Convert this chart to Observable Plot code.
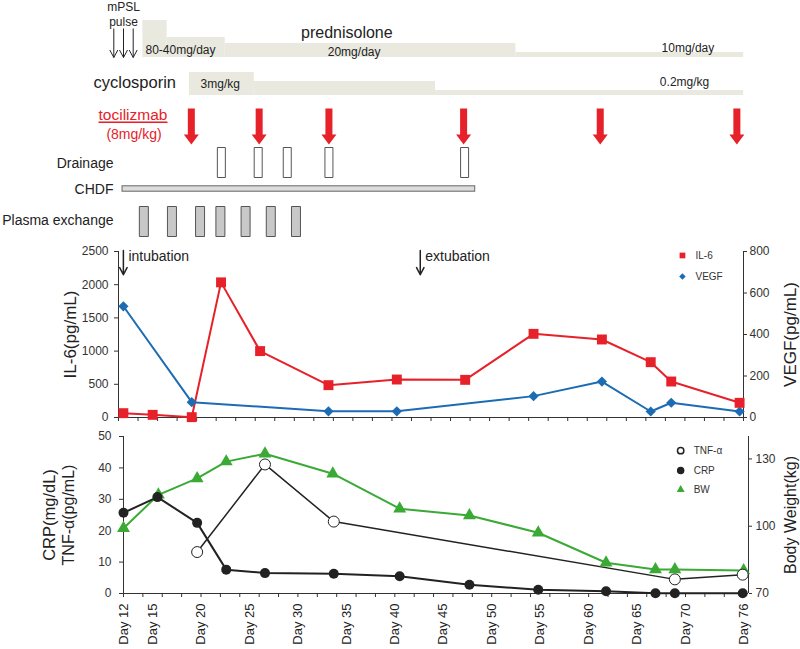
<!DOCTYPE html>
<html><head><meta charset="utf-8">
<script src="https://cdn.jsdelivr.net/npm/d3@7"></script>
<script src="https://cdn.jsdelivr.net/npm/@observablehq/plot@0.6"></script>
<style>
body{margin:0;background:#fff;}
#fig{position:relative;width:800px;height:649px;overflow:hidden;}
</style></head><body><div id="fig"></div>
<script>
// ---------- treatment timeline (days) ----------
const mpslDays = [11, 12, 13];
const predStart = [14, 16.5, 22.5, 52.5];
const predEnd = [16.5, 22.5, 52.5, 76];
const predDose = [80, 40, 20, 10];               // mg/day
const cycloStart = [18.8, 25.5, 44.2];
const cycloEnd = [25.5, 44.2, 76];
const cycloLevel = [3, 2, 1];                    // relative dose step (3 mg/kg ... 0.2 mg/kg)
const tociDays = [19, 26, 33.2, 47.1, 61.2, 75.3];
const drainDays = [22.1, 25.9, 28.9, 33.2, 47.2];
const chdfStart = [11.9];
const chdfEnd = [48.3];
const pexDays = [14.1, 17, 19.9, 22, 24.6, 27.2, 29.8];

// ---------- IL-6 / VEGF ----------
const il6Days = [12.5, 15.5, 19.5, 22.5, 26.5, 33.5, 40.5, 47.5, 54.5, 61.5, 66.5, 68.6, 75.6];
const il6 = [65, 40, 5, 2035, 1000, 487, 572, 567, 1260, 1175, 833, 542, 221];
const vegfDays = [12.5, 19.5, 33.5, 40.5, 54.5, 61.5, 66.5, 68.6, 75.6];
const vegf = [536, 74, 30, 30, 103, 173, 29, 71, 29];
const il6Ticks = [0, 500, 1000, 1500, 2000, 2500];
const vegfTicks = [0, 200, 400, 600, 800];
const eventDays = [12.5, 42.9];
const eventNames = ["intubation", "extubation"];

// ---------- CRP / TNF-α / BW ----------
const crpDays = [12, 15.5, 19.6, 22.6, 26.6, 33.7, 40.5, 47.7, 54.8, 61.8, 66.9, 68.9, 75.9];
const crp = [25.7, 30.7, 22.5, 7.6, 6.5, 6.3, 5.5, 2.8, 1.2, 0.7, 0.1, 0.1, 0.1];
const tnfDays = [19.6, 26.6, 33.7, 68.9, 75.9];
const tnf = [13.2, 41.1, 22.9, 4.5, 6.0];
const bwDays = [12, 15.6, 19.6, 22.6, 26.6, 33.6, 40.5, 47.7, 54.8, 61.8, 66.9, 68.9, 76];
const bw = [99.1, 114, 121.3, 128.8, 132.3, 123.4, 107.8, 104.8, 97.1, 83.7, 80.7, 80.7, 80.3];
const crpTicks = [0, 10, 20, 30, 40, 50];
const bwTicks = [70, 100, 130];
const dayLabels = [12, 15, 20, 25, 30, 35, 40, 45, 50, 55, 60, 65, 70, 76];

// ---------- styling ----------
const FONT = '"Liberation Sans", Arial, Helvetica, sans-serif';
const INK = "#222";
const RED = "#e62129";
const BLUE = "#1c6cb4";
const GREEN = "#3aaa35";
const BAR = "#e9e9df";
const fig = document.getElementById("fig");
const style = {background: "transparent", overflow: "visible", fontFamily: FONT, fontSize: "12px", color: "#333"};
function place(svg, top) {
  svg.style.position = "absolute"; svg.style.left = "0px"; svg.style.top = top + "px";
  fig.appendChild(svg); return svg;
}
const xTop = {domain: [12, 76.5], range: [123, 748], axis: null};
function row(top, height, marks, y = {axis: null}) {
  return place(Plot.plot({width: 800, height, margin: 0, style, x: xTop, y, marks}), top);
}
// custom symbols
const thinArrow = {draw(c) { c.moveTo(0, -14.5); c.lineTo(0, 14.5); c.moveTo(-4, 7); c.lineTo(0, 14.5); c.lineTo(4, 7); }};
const bigArrow = {draw(c) { c.moveTo(-3.5, -18); c.lineTo(3.5, -18); c.lineTo(3.5, 8); c.lineTo(7.5, 8); c.lineTo(0, 18); c.lineTo(-7.5, 8); c.lineTo(-3.5, 8); c.closePath(); }};
const box = (w, h) => ({draw(c) { c.rect(-w / 2, -h / 2, w, h); }});

// dose -> bar thickness (piecewise, as drawn in the original)
const predThick = d3.scaleLinear().domain([0, 10, 20, 40, 80]).range([0, 5, 14, 20, 37]);
const cycloThick = d3.scaleLinear().domain([0, 1, 2, 3]).range([0, 5, 14, 23]);

// ---------- row: mPSL + prednisolone ----------
const predData = predDose.map((dose, i) => ({start: predStart[i], end: predEnd[i], dose}));
row(0, 60, [
  Plot.rect(predData, {x1: "start", x2: "end", y1: () => 0, y2: "dose", fill: BAR}),
  Plot.dot(mpslDays, {x: d => d, symbol: thinArrow, fill: "none", stroke: INK, strokeWidth: 1, dy: 12.5}),
  Plot.text(["mPSL\npulse"], {text: d => d, x: 12, frameAnchor: "top", lineAnchor: "top", lineHeight: 1.17, dy: 1, fontSize: 12, fill: INK}),
  Plot.text(["prednisolone"], {text: d => d, x: 35.05, dy: 2, fontSize: 16, fill: INK}),
  Plot.text(["80-40mg/day"], {text: d => d, x: 14.27, textAnchor: "start", dy: 20, fontSize: 12, fill: INK}),
  Plot.text(["20mg/day"], {text: d => d, x: 35.8, dy: 22, fontSize: 12, fill: INK}),
  Plot.text(["10mg/day"], {text: d => d, x: 70.25, dy: 18, fontSize: 12, fill: INK})
], {transform: predThick, domain: [0, 37], range: [57, 20], axis: null});

// ---------- row: cyclosporin ----------
const cycloData = cycloLevel.map((level, i) => ({start: cycloStart[i], end: cycloEnd[i], level}));
row(60, 37, [
  Plot.rect(cycloData, {x1: "start", x2: "end", y1: () => 0, y2: "level", fill: BAR}),
  Plot.text(["cyclosporin"], {text: d => d, frameAnchor: "left", textAnchor: "start", dx: 93, dy: 3.5, fontSize: 16.5, fill: INK}),
  Plot.text(["3mg/kg"], {text: d => d, x: 19.95, textAnchor: "start", dy: 5.5, fontSize: 12, fill: INK}),
  Plot.text(["0.2mg/kg"], {text: d => d, x: 69.9, dy: 3.5, fontSize: 12, fill: INK})
], {transform: cycloThick, domain: [0, 23], range: [35, 12], axis: null});

// ---------- row: tocilizumab ----------
const toci = row(97, 50, [
  Plot.dot(tociDays, {x: d => d, symbol: bigArrow, fill: RED, stroke: "none", dy: 4}),
  Plot.text(["tocilizmab"], {text: d => d, frameAnchor: "left", textAnchor: "middle", dx: 132.5, dy: -7, fontSize: 15.5, fill: RED}),
  Plot.text(["(8mg/kg)"], {text: d => d, frameAnchor: "left", textAnchor: "middle", dx: 133.5, dy: 12, fontSize: 14, fill: RED})
]);
d3.select(toci).selectAll("text").filter(function () { return this.textContent === "tocilizmab"; })
  .attr("text-decoration", "underline");

// ---------- row: drainage ----------
row(147, 30, [
  Plot.dot(drainDays, {x: d => d, symbol: box(8, 30), fill: "white", stroke: "#555", strokeWidth: 1}),
  Plot.text(["Drainage"], {text: d => d, frameAnchor: "left", textAnchor: "end", dx: 113, dy: 1, fontSize: 14, fill: INK})
]);

// ---------- row: CHDF ----------
const chdfData = chdfStart.map((s, i) => ({start: s, end: chdfEnd[i]}));
row(185, 7, [
  Plot.rect(chdfData, {x1: "start", x2: "end", fill: "#dcdcdc", stroke: "#666", strokeWidth: 1, insetTop: 0.8, insetBottom: 0.8}),
  Plot.text(["CHDF"], {text: d => d, frameAnchor: "left", textAnchor: "end", dx: 113, dy: 0.5, fontSize: 14, fill: INK})
]);

// ---------- row: plasma exchange ----------
row(206, 30, [
  Plot.dot(pexDays, {x: d => d, symbol: box(9, 30), fill: "#c8c8c8", stroke: "#555", strokeWidth: 1}),
  Plot.text(["Plasma exchange"], {text: d => d, frameAnchor: "left", textAnchor: "end", dx: 113, dy: -1, fontSize: 14, fill: INK})
]);

// ---------- IL-6 / VEGF panel ----------
const K = 2500 / 800;
const il6Data = il6.map((v, i) => ({day: il6Days[i], v}));
const vegfData = vegf.map((v, i) => ({day: vegfDays[i], v: v * K}));
const events = eventNames.map((name, i) => ({day: eventDays[i], name}));
const legendMid = [{name: "IL-6", v: 2440, symbol: "square", fill: RED, r: 5.6}, {name: "VEGF", v: 2123, symbol: "diamond2", fill: BLUE, r: 4.6}];
place(Plot.plot({
  width: 800, height: 185, marginTop: 11, marginBottom: 8, marginLeft: 118, marginRight: 57,
  style,
  x: {domain: [12, 76], label: null},
  y: {domain: [0, 2500], label: null},
  marks: [
    Plot.ruleY([0], {stroke: "#333"}),
    Plot.ruleX([12, 76], {stroke: "#333"}),
    Plot.axisX(d3.range(12, 77, 2), {tickSize: 4, tickFormat: () => "", label: null}),
    Plot.axisY(il6Ticks, {anchor: "left", tickSize: 4, tickPadding: 6, fontSize: 12, tickFormat: d => String(d), label: null}),
    Plot.axisY(vegfTicks.map(v => v * K), {anchor: "right", tickSize: 3, tickPadding: 3, fontSize: 12, tickFormat: d => String(Math.round(d / K)), label: null}),
    Plot.text(["IL-6(pg/mL)"], {text: d => d, frameAnchor: "left", textAnchor: "middle", dx: -48, rotate: -90, fontSize: 17, fill: INK}),
    Plot.text(["VEGF(pg/mL)"], {text: d => d, frameAnchor: "right", textAnchor: "middle", dx: 47, rotate: -90, fontSize: 17, fill: INK}),
    Plot.line(vegfData, {x: "day", y: "v", stroke: BLUE, strokeWidth: 2}),
    Plot.line(il6Data, {x: "day", y: "v", stroke: RED, strokeWidth: 2}),
    Plot.dot(vegfData, {x: "day", y: "v", symbol: "diamond2", r: 4.6, fill: BLUE}),
    Plot.dot(il6Data, {x: "day", y: "v", symbol: "square", r: 5.6, fill: RED}),
    Plot.arrow(events, {x: "day", y1: 2515, y2: 2150, stroke: INK, strokeWidth: 1.5, headLength: 8, headAngle: 55}),
    Plot.text(events, {x: "day", y: 2425, text: "name", dx: 5, textAnchor: "start", fontSize: 14, fill: INK}),
    Plot.dot(legendMid, {x: 69.75, y: "v", symbol: "symbol", r: "r", fill: "fill"}),
    Plot.text(legendMid, {x: 69.75, y: "v", text: "name", dx: 13, textAnchor: "start", fontSize: 10, fill: "#333"})
  ]
}), 240);

// ---------- CRP / TNF-α / BW panel ----------
const BWK = 70 / 50;
const crpData = crp.map((v, i) => ({day: crpDays[i], v}));
const tnfData = tnf.map((v, i) => ({day: tnfDays[i], v}));
const bwData = bw.map((v, i) => ({day: bwDays[i], v: (v - 70) / BWK}));
const legendBot = [
  {name: "TNF-α", v: 45.5, symbol: "circle", fill: "white", stroke: INK, r: 5.5},
  {name: "CRP", v: 39.2, symbol: "circle", fill: INK, stroke: INK, r: 5},
  {name: "BW", v: 33.1, symbol: "triangle", fill: GREEN, stroke: "none", r: 4.8}
];
place(Plot.plot({
  width: 800, height: 219, marginTop: 6, marginBottom: 56, marginLeft: 123, marginRight: 52,
  style,
  x: {domain: [12, 76.5], label: null},
  y: {domain: [0, 50], label: null},
  marks: [
    Plot.ruleY([0], {stroke: "#333"}),
    Plot.ruleX([12, 76.5], {stroke: "#333"}),
    Plot.axisX(d3.range(12, 77, 2), {tickSize: 4, tickFormat: () => "", label: null}),
    Plot.axisX(dayLabels, {tickSize: 0, tickPadding: 10, tickRotate: -90, tickFormat: d => "Day " + d, fontSize: 13, fill: INK, label: null}),
    Plot.axisY(crpTicks, {anchor: "left", tickSize: 4, tickPadding: 8, fontSize: 12, tickFormat: d => String(d), label: null}),
    Plot.axisY(bwTicks.map(v => (v - 70) / BWK), {anchor: "right", tickSize: 3, tickPadding: 4, fontSize: 12, tickFormat: d => String(Math.round(d * BWK + 70)), label: null}),
    Plot.text(["CRP(mg/dL)"], {text: d => d, frameAnchor: "left", textAnchor: "middle", dx: -74, rotate: -90, fontSize: 16.5, fill: INK}),
    Plot.text(["TNF-α(pg/mL)"], {text: d => d, frameAnchor: "left", textAnchor: "middle", dx: -55, rotate: -90, fontSize: 16, fill: INK}),
    Plot.text(["Body Weight(kg)"], {text: d => d, frameAnchor: "right", textAnchor: "middle", dx: 42, rotate: -90, fontSize: 16, fill: INK}),
    Plot.line(bwData, {x: "day", y: "v", stroke: GREEN, strokeWidth: 2}),
    Plot.line(tnfData, {x: "day", y: "v", stroke: INK, strokeWidth: 1.5}),
    Plot.line(crpData, {x: "day", y: "v", stroke: INK, strokeWidth: 2}),
    Plot.dot(bwData, {x: "day", y: "v", symbol: "triangle", r: 4.8, fill: GREEN}),
    Plot.dot(crpData, {x: "day", y: "v", r: 5, fill: INK}),
    Plot.dot(tnfData, {x: "day", y: "v", r: 5.5, fill: "white", stroke: INK, strokeWidth: 1}),
    Plot.dot(legendBot, {x: 69.5, y: "v", symbol: "symbol", r: "r", fill: "fill", stroke: "stroke"}),
    Plot.text(legendBot, {x: 69.5, y: "v", text: "name", dx: 13, textAnchor: "start", fontSize: 10, fill: "#333"})
  ]
}), 430);
</script>
</body></html>
